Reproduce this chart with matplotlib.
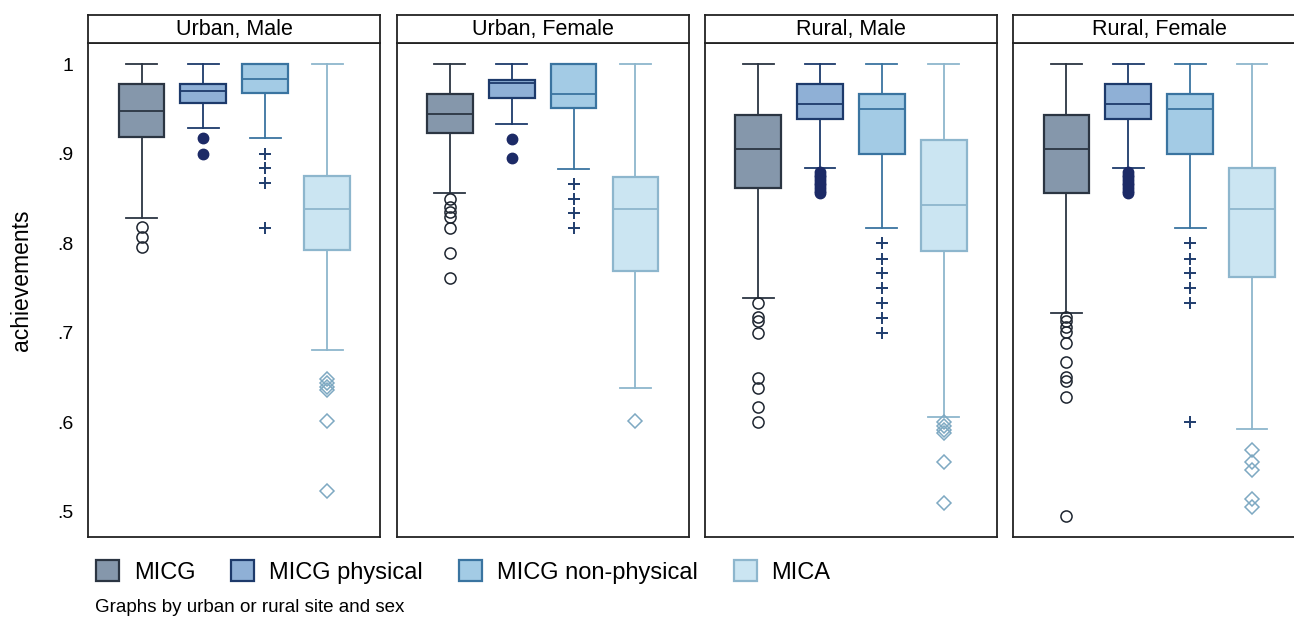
import matplotlib
matplotlib.use("Agg")
import matplotlib.pyplot as plt
from matplotlib.patches import Patch

plt.rcParams["font.family"] = ["Liberation Sans", "DejaVu Sans"]

panels = ["Urban, Male", "Urban, Female", "Rural, Male", "Rural, Female"]
series = ["MICG", "MICG physical", "MICG non-physical", "MICA"]

# box stats per panel (q1, median, q3, lower/upper adjacent values, outliers)
micg_q1 = [0.919, 0.923, 0.862, 0.856]
micg_med = [0.948, 0.945, 0.906, 0.906]
micg_q3 = [0.978, 0.967, 0.944, 0.944]
micg_lo = [0.828, 0.856, 0.739, 0.722]
micg_hi = [1.0, 1.0, 1.0, 1.0]
micg_out = [[0.818, 0.807, 0.796],
            [0.850, 0.841, 0.835, 0.830, 0.817, 0.789, 0.761],
            [0.733, 0.718, 0.713, 0.700, 0.650, 0.639, 0.617, 0.600],
            [0.718, 0.713, 0.707, 0.701, 0.689, 0.667, 0.651, 0.646, 0.628, 0.495]]

phys_q1 = [0.957, 0.962, 0.939, 0.939]
phys_med = [0.970, 0.979, 0.956, 0.956]
phys_q3 = [0.978, 0.983, 0.978, 0.978]
phys_lo = [0.929, 0.934, 0.884, 0.884]
phys_hi = [1.0, 1.0, 1.0, 1.0]
phys_out = [[0.918, 0.900],
            [0.917, 0.895],
            [0.880, 0.877, 0.874, 0.871, 0.868, 0.865, 0.862, 0.859, 0.856],
            [0.880, 0.877, 0.874, 0.871, 0.868, 0.865, 0.862, 0.859, 0.856]]

nonp_q1 = [0.968, 0.951, 0.900, 0.900]
nonp_med = [0.984, 0.967, 0.950, 0.950]
nonp_q3 = [1.0, 1.0, 0.967, 0.967]
nonp_lo = [0.918, 0.883, 0.817, 0.817]
nonp_hi = [1.0, 1.0, 1.0, 1.0]
nonp_out = [[0.900, 0.884, 0.868, 0.817],
            [0.867, 0.850, 0.834, 0.817],
            [0.801, 0.783, 0.767, 0.750, 0.733, 0.717, 0.700],
            [0.801, 0.783, 0.767, 0.750, 0.733, 0.600]]

mica_q1 = [0.793, 0.769, 0.792, 0.762]
mica_med = [0.839, 0.839, 0.843, 0.838]
mica_q3 = [0.875, 0.874, 0.916, 0.884]
mica_lo = [0.681, 0.639, 0.606, 0.593]
mica_hi = [1.0, 1.0, 1.0, 1.0]
mica_out = [[0.648, 0.644, 0.640, 0.636, 0.602, 0.523],
            [0.602],
            [0.600, 0.596, 0.592, 0.588, 0.556, 0.510],
            [0.569, 0.556, 0.547, 0.515, 0.506]]

yticks = [0.5, 0.6, 0.7, 0.8, 0.9, 1.0]
ytick_labels = [".5", ".6", ".7", ".8", ".9", "1"]

fills = ["#8597ab", "#8fb0d6", "#a3cbe5", "#cbe5f2"]
edges = ["#2b3542", "#1d3a6b", "#3a74a0", "#8db6cd"]
flier_style = [
    dict(marker="o", mfc="none", mec="#1e2530", ms=8, mew=1.1),
    dict(marker="o", mfc="#1c2a66", mec="#1c2a66", ms=7.5),
    dict(marker="+", mfc="none", mec="#1f3d6e", ms=8.5, mew=1.4),
    dict(marker="D", mfc="none", mec="#7ea9c2", ms=7, mew=1.1),
]

stats_by_series = [
    (micg_q1, micg_med, micg_q3, micg_lo, micg_hi, micg_out),
    (phys_q1, phys_med, phys_q3, phys_lo, phys_hi, phys_out),
    (nonp_q1, nonp_med, nonp_q3, nonp_lo, nonp_hi, nonp_out),
    (mica_q1, mica_med, mica_q3, mica_lo, mica_hi, mica_out),
]

W, H = 1294, 618
fig = plt.figure(figsize=(W / 100, H / 100), dpi=100)

for p, title in enumerate(panels):
    left = (88.3 + 308.3 * p) / W
    ax = fig.add_axes([left, (H - 537) / H, 292 / W, (537 - 43) / H])
    for s in range(4):
        q1, med, q3, lo, hi, out = stats_by_series[s]
        st = dict(q1=q1[p], med=med[p], q3=q3[p], whislo=lo[p], whishi=hi[p],
                  fliers=out[p], label=series[s])
        ax.bxp([st], positions=[s + 1], widths=0.74, capwidths=0.5,
               patch_artist=True, manage_ticks=False,
               boxprops=dict(facecolor=fills[s], edgecolor=edges[s], lw=1.6),
               medianprops=dict(color=edges[s], lw=1.3),
               whiskerprops=dict(color=edges[s], lw=1.3),
               capprops=dict(color=edges[s], lw=1.3),
               flierprops=dict(ls="none", **flier_style[s]))
    ax.set_xlim(0.14, 4.86)
    ax.set_ylim(0.472, 1.024)
    ax.set_xticks([])
    ax.set_yticks(yticks)
    if p == 0:
        ax.set_yticklabels(ytick_labels, fontsize=14)
    else:
        ax.set_yticklabels([])
    ax.tick_params(axis="y", length=0, pad=11)
    for sp in ax.spines.values():
        sp.set_color("#222222")
        sp.set_linewidth(1.3)

    hx = fig.add_axes([left, (H - 43) / H, 292 / W, 28 / H])
    hx.set_xticks([])
    hx.set_yticks([])
    for sp in hx.spines.values():
        sp.set_color("#222222")
        sp.set_linewidth(1.3)
    hx.text(0.5, 0.5, title, ha="center", va="center", fontsize=15.5,
            transform=hx.transAxes)

fig.text(22 / W, 1 - 280 / H, "achievements", rotation=90, ha="center",
         va="center", fontsize=16.5)

handles = [Patch(facecolor=fills[i], edgecolor=edges[i], lw=1.6) for i in range(4)]
fig.legend(handles, series, loc="center left", ncol=4, frameon=False,
           bbox_to_anchor=(96 / W, 1 - 572 / H), borderaxespad=0, borderpad=0,
           fontsize=17, handlelength=0.97, handleheight=1.0, handletextpad=0.63,
           columnspacing=1.53)

fig.text(95 / W, 1 - 607 / H, "Graphs by urban or rural site and sex",
         ha="left", va="center", fontsize=13.5)

fig.savefig("out.png", dpi=100)
